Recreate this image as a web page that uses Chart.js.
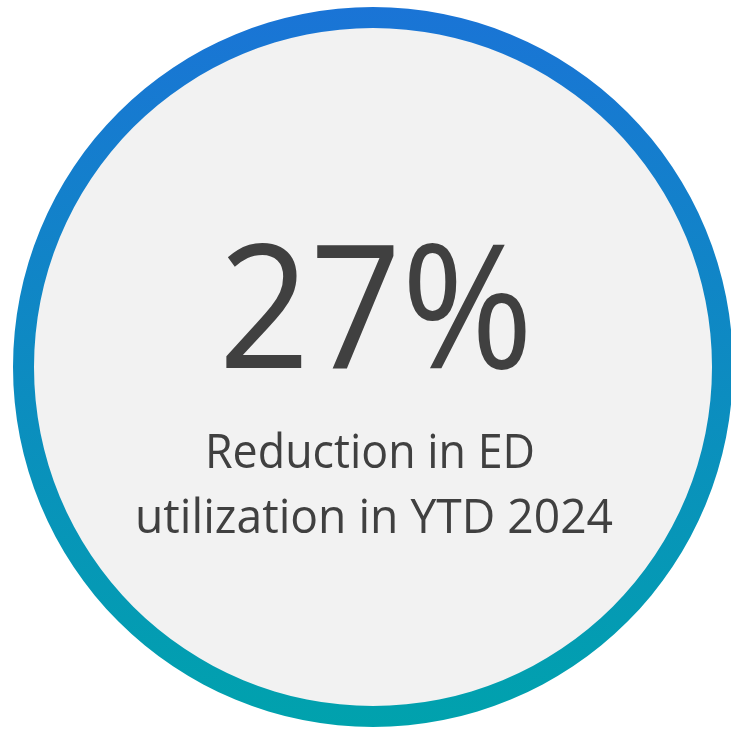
<!DOCTYPE html>
<html>
<head>
<meta charset="utf-8">
<script src="https://cdn.jsdelivr.net/npm/chart.js@4"></script>
<style>
  html, body { margin: 0; padding: 0; background: #ffffff; overflow: hidden; }
  #wrap { width: 733px; height: 729px; }
</style>
</head>
<body>
<div id="wrap"><canvas id="kpi" width="733" height="729"></canvas></div>
<script>
// KPI bubble values
const headlineValue = 27;
const headlineUnit = '%';
const captionLines = ['Reduction in ED', 'utilization in YTD 2024'];
const ringValues = [100];

const ringTop = '#1a74d6';
const ringBottom = '#00a2ad';
const faceColor = '#f2f2f2';
const textColor = '#404040';
const fontFamily = '"Open Sans", "Noto Sans", sans-serif';

// draw text with a given cap height, squeezed to a target width
function fitText(ctx, text, cx, baseline, size, width) {
  ctx.save();
  ctx.font = size + 'px ' + fontFamily;
  const w = ctx.measureText(text).width;
  const sx = width / w;
  ctx.translate(cx, baseline);
  ctx.scale(sx, 1);
  ctx.textAlign = 'center';
  ctx.textBaseline = 'alphabetic';
  ctx.fillStyle = textColor;
  ctx.fillText(text, 0, 0);
  ctx.restore();
}

const facePlugin = {
  id: 'face',
  beforeDatasetsDraw(chart) {
    const arc = chart.getDatasetMeta(0).data[0];
    if (!arc) return;
    const ctx = chart.ctx;
    ctx.save();
    ctx.beginPath();
    ctx.arc(arc.x, arc.y, arc.innerRadius + 0.5, 0, Math.PI * 2);
    ctx.fillStyle = faceColor;
    ctx.fill();
    ctx.restore();
  },
  afterDraw(chart) {
    const arc = chart.getDatasetMeta(0).data[0];
    if (!arc) return;
    const ctx = chart.ctx;
    fitText(ctx, headlineValue + headlineUnit, arc.x + 3, 368, 172, 315);
    fitText(ctx, captionLines[0], arc.x - 3, 468, 47, 330);
    fitText(ctx, captionLines[1], arc.x + 1, 533, 47, 478);
  }
};

new Chart(document.getElementById('kpi'), {
  type: 'doughnut',
  data: {
    labels: ['ring'],
    datasets: [{
      data: ringValues,
      borderWidth: 0,
      backgroundColor(context) {
        const area = context.chart.chartArea;
        if (!area) return ringTop;
        const g = context.chart.ctx.createLinearGradient(0, area.top, 0, area.bottom);
        g.addColorStop(0, ringTop);
        g.addColorStop(1, ringBottom);
        return g;
      }
    }]
  },
  options: {
    responsive: false,
    animation: false,
    cutout: 339,
    layout: { padding: { left: 13, top: 7, right: 0, bottom: 2 } },
    plugins: {
      legend: { display: false },
      tooltip: { enabled: false }
    }
  },
  plugins: [facePlugin]
});
</script>
</body>
</html>
